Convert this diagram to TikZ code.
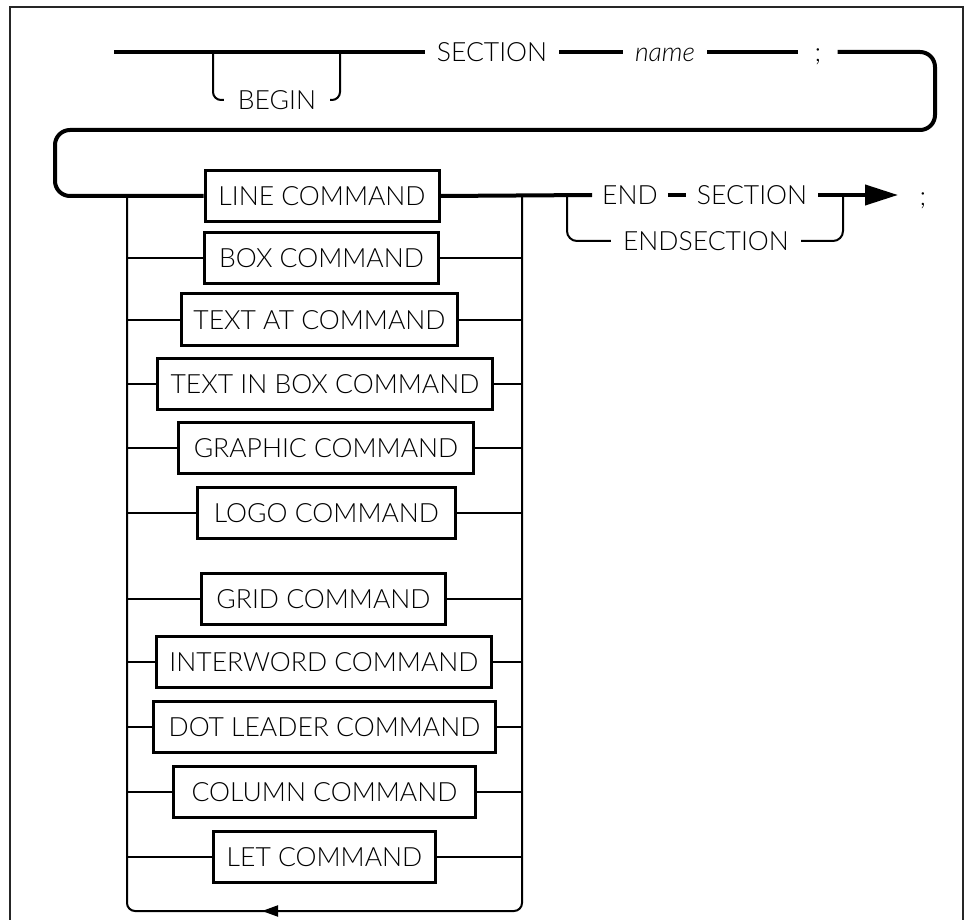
\documentclass[tikz,border=0pt]{standalone}
\usepackage{fontspec}
\setmainfont{Lato}[UprightFont={* Light}, ItalicFont={* Light Italic}]
\usetikzlibrary{arrows.meta}
\begin{document}
\begin{tikzpicture}[x=1pt,y=-1pt,
  lbl/.style={font=\fontsize{26.5}{30}\selectfont, inner ysep=0pt, inner xsep=12pt, text height=19pt, text depth=0pt},
  cmd/.style={font=\fontsize{26.5}{30}\selectfont, inner sep=0pt, text height=19pt, text depth=0pt, draw, line width=3pt, minimum height=51pt},
  main/.style={line width=4pt},
  thinln/.style={line width=2pt},
  frame/.style={line width=2pt, black!85}]
\useasboundingbox (0,0) rectangle (967,920);
% frame
\draw[frame] (10,940) -- (10,7) -- (963,7) -- (963,940);
% top row
\coordinate (st) at (114,52);
\coordinate (b1) at (213,52);
\coordinate (b2) at (340,52);
\node[lbl] (sec) at (492,52) {SECTION};
\node[lbl] (nm) at (665,52) {\itshape name};
\node[lbl, inner xsep=16pt] (semi) at (818,52) {;};
\node[lbl, inner xsep=14pt] (beg) at (277,100) {BEGIN};
\draw[main] (st) -- (sec.west);
\draw[main] (sec.east) -- (nm.west);
\draw[main] (nm.east) -- (semi.west);
\coordinate (tr) at (935,52);
\coordinate (rr2) at (935,130);
\coordinate (ll) at (55,130);
\draw[thinln, rounded corners=8pt] (b1) |- (beg.west);
\draw[thinln, rounded corners=8pt] (beg.east) -| (b2);
% commands
\node[cmd, minimum width=234pt] (c1) at (322,196) {LINE COMMAND};
\node[cmd, minimum width=234pt] (c2) at (321.5,258.5) {BOX COMMAND};
\node[cmd, minimum width=276pt] (c3) at (319.5,319.5) {TEXT AT COMMAND};
\node[cmd, minimum width=335pt] (c4) at (325,384) {TEXT IN BOX COMMAND};
\node[cmd, minimum width=295pt] (c5) at (326,448) {GRAPHIC COMMAND};
\node[cmd, minimum width=258pt] (c6) at (326.5,512.5) {LOGO COMMAND};
\node[cmd, minimum width=244pt] (c7) at (323.5,598.5) {GRID COMMAND};
\node[cmd, minimum width=335pt] (c8) at (324,661.5) {INTERWORD COMMAND};
\node[cmd, minimum width=342pt] (c9) at (324.5,726.5) {DOT LEADER COMMAND};
\node[cmd, minimum width=302pt] (c10) at (324.5,791.5) {COLUMN COMMAND};
\node[cmd, minimum width=222pt] (c11) at (324.5,856.5) {LET COMMAND};
% main loop into first command
\draw[main, rounded corners=15pt] (semi.east) -- (tr) -- (rr2) -- (ll) -- (ll |- c1.west) -- (c1.west);
% rails
\coordinate (rl) at (127,196);
\coordinate (rr) at (522,196);
\coordinate (bl) at (127,911);
\coordinate (br) at (522,911);
\draw[thinln, rounded corners=8pt] (rl) -- (bl) -- (br) -- (rr);
\coordinate (ar1) at (292,911);
\coordinate (ar2) at (262,911);
\draw[thinln, -{Triangle[length=16pt,width=11pt]}] (ar1) -- (ar2);
\foreach \n in {c2,c3,c4,c5,c6,c7,c8,c9,c10,c11}{
  \draw[thinln] (\n.west -| rl) -- (\n.west);
  \draw[thinln] (\n.east) -- (\n.east -| rr);
}
% end part
\node[lbl, inner xsep=10pt] (endw) at (630,195) {END};
\node[lbl, inner xsep=11pt] (sec2) at (752,195) {SECTION};
\node[lbl, inner xsep=12pt] (es) at (706,241) {ENDSECTION};
\node[lbl, inner xsep=0pt] (semi2) at (923,196) {;};
\coordinate (tip) at (898,195);
\coordinate (bj) at (567,195);
\coordinate (bk) at (843,195);
\draw[main] (c1.east) -- (endw.west);
\draw[main] (endw.east) -- (sec2.west);
\draw[main, -{Triangle[length=33pt,width=20pt]}] (sec2.east) -- (tip);
\draw[thinln, rounded corners=10pt] (bj) |- (es.west);
\draw[thinln, rounded corners=10pt] (es.east) -| (bk);
\end{tikzpicture}
\end{document}
